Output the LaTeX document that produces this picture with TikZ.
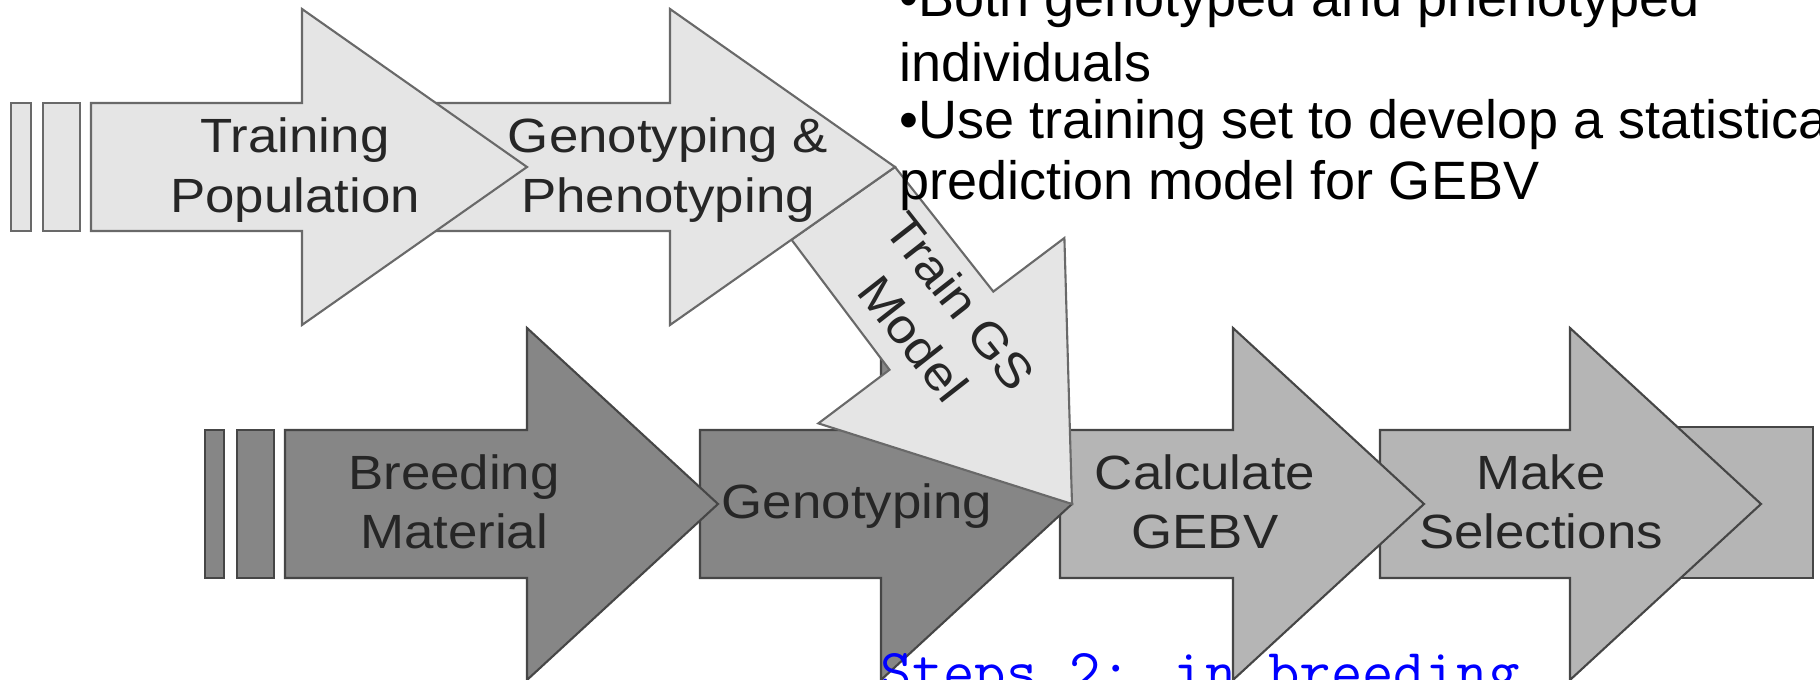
\documentclass[tikz,border=0pt]{standalone}
\usepackage{fontspec}
\newfontfamily\labelfont[FakeStretch=1.1]{Liberation Sans}
\newfontfamily\notefont{Liberation Sans}
\definecolor{lightfill}{RGB}{229,229,229}
\definecolor{midfill}{RGB}{181,181,181}
\definecolor{darkfill}{RGB}{134,134,134}
\definecolor{edgelight}{RGB}{105,105,105}
\definecolor{edgedark}{RGB}{70,70,70}
% block arrow: tail x, head x, tip x, centre y, body half height, head half height, style
\newcommand{\stepshape}[7]{%
  \draw[#7] (#1,#4-#5) -- (#2,#4-#5) -- (#2,#4-#6) -- (#3,#4)
    -- (#2,#4+#6) -- (#2,#4+#5) -- (#1,#4+#5) -- cycle;}
\tikzset{
  lightstep/.style={fill=lightfill, draw=edgelight, line width=0.6pt},
  darkstep/.style={fill=darkfill, draw=edgedark, line width=0.6pt},
  midstep/.style={fill=midfill, draw=edgedark, line width=0.6pt},
  steplabel/.style={font=\labelfont\fontsize{13.66pt}{16.9pt}\selectfont,
    align=center, text=black!85, inner sep=0pt},
  notetext/.style={font=\notefont\fontsize{15.36pt}{17.6pt}\selectfont,
    anchor=base west, inner sep=0pt},
  stepsnote/.style={font=\ttfamily\fontsize{17.35pt}{20pt}\selectfont,
    text=blue, anchor=base west, inner sep=0pt},
}
\begin{document}
\begin{tikzpicture}[x=0.01cm, y=-0.01cm]
\useasboundingbox (0,0) rectangle (1820,680);
\clip (0,0) rectangle (1820,680);

% lower row: breeding pipeline, drawn right to left so each head overlaps the next body
\draw[midstep] (1650,427) rectangle (1813,578);
\stepshape{1380}{1570}{1761}{504}{74}{176}{midstep}
\stepshape{1060}{1233}{1424}{504}{74}{176}{midstep}
\stepshape{700}{881}{1072}{504}{74}{176}{darkstep}
\stepshape{285}{527}{718}{504}{74}{176}{darkstep}
\draw[darkstep] (205,430) rectangle (224,578);
\draw[darkstep] (237,430) rectangle (274,578);

% diagonal arrow from the training row down to the end of genotyping
\coordinate (gstip) at (1072,504);
\coordinate (toptip) at (895,167);
\draw[lightstep] (toptip) -- (993.3,291.6) -- (1064.4,238.0) -- (gstip)
  -- (818.4,423.4) -- (889.5,369.8) -- (791.5,239.7) -- cycle;

% upper row: training population
\stepshape{420}{670}{895}{167}{64}{158}{lightstep}
\stepshape{91}{302}{527}{167}{64}{158}{lightstep}
\draw[lightstep] (11,103) rectangle (31,231);
\draw[lightstep] (43,103) rectangle (80,231);

% step labels
\node[steplabel] (trainpop) at (295,170) {Training\\Population};
\node[steplabel] (genopheno) at (668,170) {Genotyping \&\\Phenotyping};
\node[steplabel, rotate=-52] (trainmodel) at (937,320) {Train GS\\Model};
\node[steplabel] (breeding) at (454,502) {Breeding\\Material};
\node[steplabel] (genotyping) at (857,506) {Genotyping};
\node[steplabel] (calc) at (1205,502) {Calculate\\GEBV};
\node[steplabel] (select) at (1541,502) {Make\\Selections};

% notes on the training set
\node[notetext] (noteA1) at (899,17) {•Both genotyped and phenotyped};
\node[notetext] (noteA2) at (899,82) {individuals};
\node[notetext] (noteB1) at (899,139) {•Use training set to develop a statistical};
\node[notetext] (noteB2) at (899,200) {prediction model for GEBV};

\node[stepsnote] (steps) at (880,692) {Steps 2: in breeding};
\end{tikzpicture}
\end{document}
